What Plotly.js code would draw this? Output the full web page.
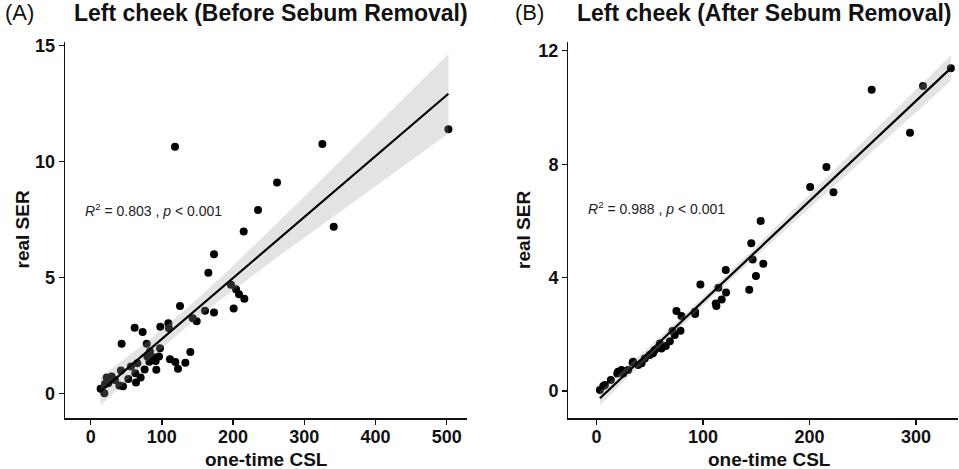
<!DOCTYPE html>
<html>
<head>
<meta charset="utf-8">
<script src="https://cdn.plot.ly/plotly-3.0.1.min.js"></script>
<style>html,body{margin:0;padding:0;background:#fff;}#chart{width:959px;height:469px;}</style>
</head>
<body>
<div id="chart"></div>
<script>
// Panel A: Left cheek (Before Sebum Removal)
const cslBefore = [118.4, 325.4, 502.3, 261.7, 235.0, 214.9, 341.3, 173.2, 165.3, 197.1, 204.1, 208.3, 215.8, 200.8, 173.2, 160.6, 125.5, 148.9, 143.3, 109.1, 97.8, 110.0, 61.8, 73.0, 43.5, 78.7, 97.4, 83.3, 140.0, 79.6, 88.0, 96.0, 91.3, 111.4, 118.9, 133.0, 122.7, 92.2, 75.8, 65.5, 62.7, 70.2, 63.7, 52.9, 56.6, 42.6, 45.4, 40.3, 29.5, 22.5, 27.2, 20.1, 14.0, 19.2, 82.4, 34.1, 24.7];
const serBefore = [10.63, 10.75, 11.38, 9.09, 7.90, 6.98, 7.18, 5.99, 5.20, 4.68, 4.48, 4.27, 4.07, 3.66, 3.48, 3.56, 3.76, 3.10, 3.23, 3.02, 2.87, 2.80, 2.83, 2.64, 2.14, 2.13, 1.94, 1.80, 1.78, 1.58, 1.55, 1.58, 1.39, 1.47, 1.35, 1.32, 1.06, 1.01, 1.02, 1.29, 0.86, 0.68, 0.46, 0.62, 1.15, 0.98, 0.30, 0.33, 0.72, 0.68, 0.57, 0.40, 0.19, 0.0, 1.36, 0.57, 0.43];
// Panel B: Left cheek (After Sebum Removal)
const cslAfter = [332.8, 306.6, 258.4, 294.4, 215.9, 200.6, 222.5, 154.1, 145.3, 146.6, 156.6, 121.3, 149.7, 143.4, 97.5, 114.4, 121.6, 117.5, 111.9, 112.5, 75.0, 79.7, 92.5, 92.5, 78.8, 73.4, 71.3, 68.8, 65.0, 60.9, 54.6, 50.0, 45.3, 34.3, 39.0, 29.6, 23.4, 20.2, 25.0, 13.4, 7.8, 3.1, 42.2, 53.0, 33.8, 19.4, 6.3, 59.4];
const serAfter = [11.38, 10.76, 10.63, 9.11, 7.90, 7.20, 7.01, 6.00, 5.21, 4.64, 4.49, 4.27, 4.06, 3.57, 3.76, 3.64, 3.48, 3.23, 3.09, 3.00, 2.82, 2.65, 2.80, 2.72, 2.13, 1.98, 2.12, 1.76, 1.59, 1.50, 1.45, 1.27, 1.15, 1.03, 0.92, 0.74, 0.74, 0.68, 0.62, 0.39, 0.21, 0.04, 0.98, 1.33, 1.00, 0.62, 0.18, 1.68];

const xTicksA = [0, 100, 200, 300, 400, 500];
const yTicksA = [0, 5, 10, 15];
const xTicksB = [0, 100, 200, 300];
const yTicksB = [0, 4, 8, 12];

const panelTitles = ["Left cheek (Before Sebum Removal)", "Left cheek (After Sebum Removal)"];
const panelTags = ["(A)", "(B)"];
const statLabels = ["<i>R</i><sup>2</sup> = 0.803 , <i>p</i> < 0.001", "<i>R</i><sup>2</sup> = 0.988 , <i>p</i> < 0.001"];
const xTitle = "one-time CSL";
const yTitle = "real SER";

function lmFit(xs, ys) {
  const n = xs.length;
  const mx = xs.reduce((a, b) => a + b, 0) / n;
  const my = ys.reduce((a, b) => a + b, 0) / n;
  let sxx = 0, sxy = 0;
  for (let i = 0; i < n; i++) { sxx += (xs[i] - mx) ** 2; sxy += (xs[i] - mx) * (ys[i] - my); }
  const b = sxy / sxx, a = my - b * mx;
  let sse = 0;
  for (let i = 0; i < n; i++) sse += (ys[i] - a - b * xs[i]) ** 2;
  const s = Math.sqrt(sse / (n - 2));
  const t = 1.96 + 2.5 / (n - 2);
  const lo = Math.min(...xs), hi = Math.max(...xs);
  const gx = [], gy = [], up = [], dn = [];
  for (let k = 0; k <= 80; k++) {
    const x = lo + (hi - lo) * k / 80;
    const yh = a + b * x;
    const se = s * Math.sqrt(1 / n + (x - mx) ** 2 / sxx);
    gx.push(x); gy.push(yh); up.push(yh + t * se); dn.push(yh - t * se);
  }
  return { gx, gy, up, dn };
}

function panelTraces(xs, ys, xa, ya) {
  const f = lmFit(xs, ys);
  return [
    { type: 'scatter', mode: 'markers', x: xs, y: ys, xaxis: xa, yaxis: ya,
      marker: { color: '#000', size: 8 }, hoverinfo: 'skip' },
    { type: 'scatter', mode: 'lines', x: f.gx.concat(f.gx.slice().reverse()),
      y: f.up.concat(f.dn.slice().reverse()), xaxis: xa, yaxis: ya,
      fill: 'toself', fillcolor: 'rgba(153,153,153,0.28)', line: { width: 0 }, hoverinfo: 'skip' },
    { type: 'scatter', mode: 'lines', x: f.gx, y: f.gy, xaxis: xa, yaxis: ya,
      line: { color: '#000', width: 2.2 }, hoverinfo: 'skip' }
  ];
}

const data = panelTraces(cslBefore, serBefore, 'x', 'y').concat(panelTraces(cslAfter, serAfter, 'x2', 'y2'));

const W = 959, H = 469;
const FAM = 'Liberation Sans, Arial, sans-serif';
const tickFont = { family: FAM, size: 18, color: '#111', weight: 'bold' };
const bold = v => '<b>' + v + '</b>';
function axisCommon(vals) {
  return {
    showgrid: false, zeroline: false, showline: true, linecolor: '#111', linewidth: 1.3,
    ticks: 'outside', ticklen: 5, tickwidth: 1.3, tickcolor: '#111',
    tickvals: vals, ticktext: vals.map(bold),
    tickfont: tickFont, automargin: false, fixedrange: true
  };
}
const yDom = [(H - 418.3) / H, (H - 41.7) / H];
const py = p => 1 - p / H;
const px = p => p / W;

const layout = {
  width: W, height: H,
  margin: { l: 0, r: 0, t: 0, b: 0 },
  paper_bgcolor: '#fff', plot_bgcolor: '#fff',
  showlegend: false,
  xaxis: Object.assign(axisCommon(xTicksA), { domain: [px(65), px(466.7)], range: [-36, 528], anchor: 'y', ticklabelstandoff: -3 }),
  yaxis: Object.assign(axisCommon(yTicksA), { domain: yDom, range: [-1.08, 15.16], anchor: 'x' }),
  xaxis2: Object.assign(axisCommon(xTicksB), { domain: [px(568.3), px(958)], range: [-26.6, 339.5], anchor: 'y2', ticklabelstandoff: -3 }),
  yaxis2: Object.assign(axisCommon(yTicksB), { domain: yDom, range: [-0.96, 12.32], anchor: 'x2' }),
  annotations: [
    { xref: 'paper', yref: 'paper', x: px(4), y: py(-1), xanchor: 'left', yanchor: 'top', showarrow: false, borderpad: 0,
      text: panelTags[0], font: { family: FAM, size: 22, color: '#111' } },
    { xref: 'paper', yref: 'paper', x: px(73), y: py(-1), xanchor: 'left', yanchor: 'top', showarrow: false, borderpad: 0,
      text: bold(panelTitles[0]), font: { family: FAM, size: 23, color: '#111' } },
    { xref: 'paper', yref: 'paper', x: px(514), y: py(-1), xanchor: 'left', yanchor: 'top', showarrow: false, borderpad: 0,
      text: panelTags[1], font: { family: FAM, size: 22, color: '#111' } },
    { xref: 'paper', yref: 'paper', x: px(576), y: py(-1), xanchor: 'left', yanchor: 'top', showarrow: false, borderpad: 0,
      text: bold(panelTitles[1]), font: { family: FAM, size: 23, color: '#111' } },
    { xref: 'paper', yref: 'paper', x: px(83), y: py(210), xanchor: 'left', yanchor: 'middle', showarrow: false,
      text: statLabels[0], font: { family: FAM, size: 14, color: '#222' } },
    { xref: 'paper', yref: 'paper', x: px(586), y: py(208.5), xanchor: 'left', yanchor: 'middle', showarrow: false,
      text: statLabels[1], font: { family: FAM, size: 14, color: '#222' } },
    { xref: 'paper', yref: 'paper', x: px(266), y: py(459), xanchor: 'center', yanchor: 'middle', showarrow: false, borderpad: 0,
      text: bold(xTitle), font: { family: FAM, size: 19, color: '#111' } },
    { xref: 'paper', yref: 'paper', x: px(769), y: py(459), xanchor: 'center', yanchor: 'middle', showarrow: false, borderpad: 0,
      text: bold(xTitle), font: { family: FAM, size: 19, color: '#111' } },
    { xref: 'paper', yref: 'paper', x: px(22.5), y: py(230), xanchor: 'center', yanchor: 'middle', showarrow: false, textangle: -90,
      text: bold(yTitle), font: { family: FAM, size: 19, color: '#111' } },
    { xref: 'paper', yref: 'paper', x: px(524), y: py(230), xanchor: 'center', yanchor: 'middle', showarrow: false, textangle: -90,
      text: bold(yTitle), font: { family: FAM, size: 19, color: '#111' } }
  ]
};

Plotly.newPlot('chart', data, layout, { staticPlot: true, displayModeBar: false });
</script>
</body>
</html>
